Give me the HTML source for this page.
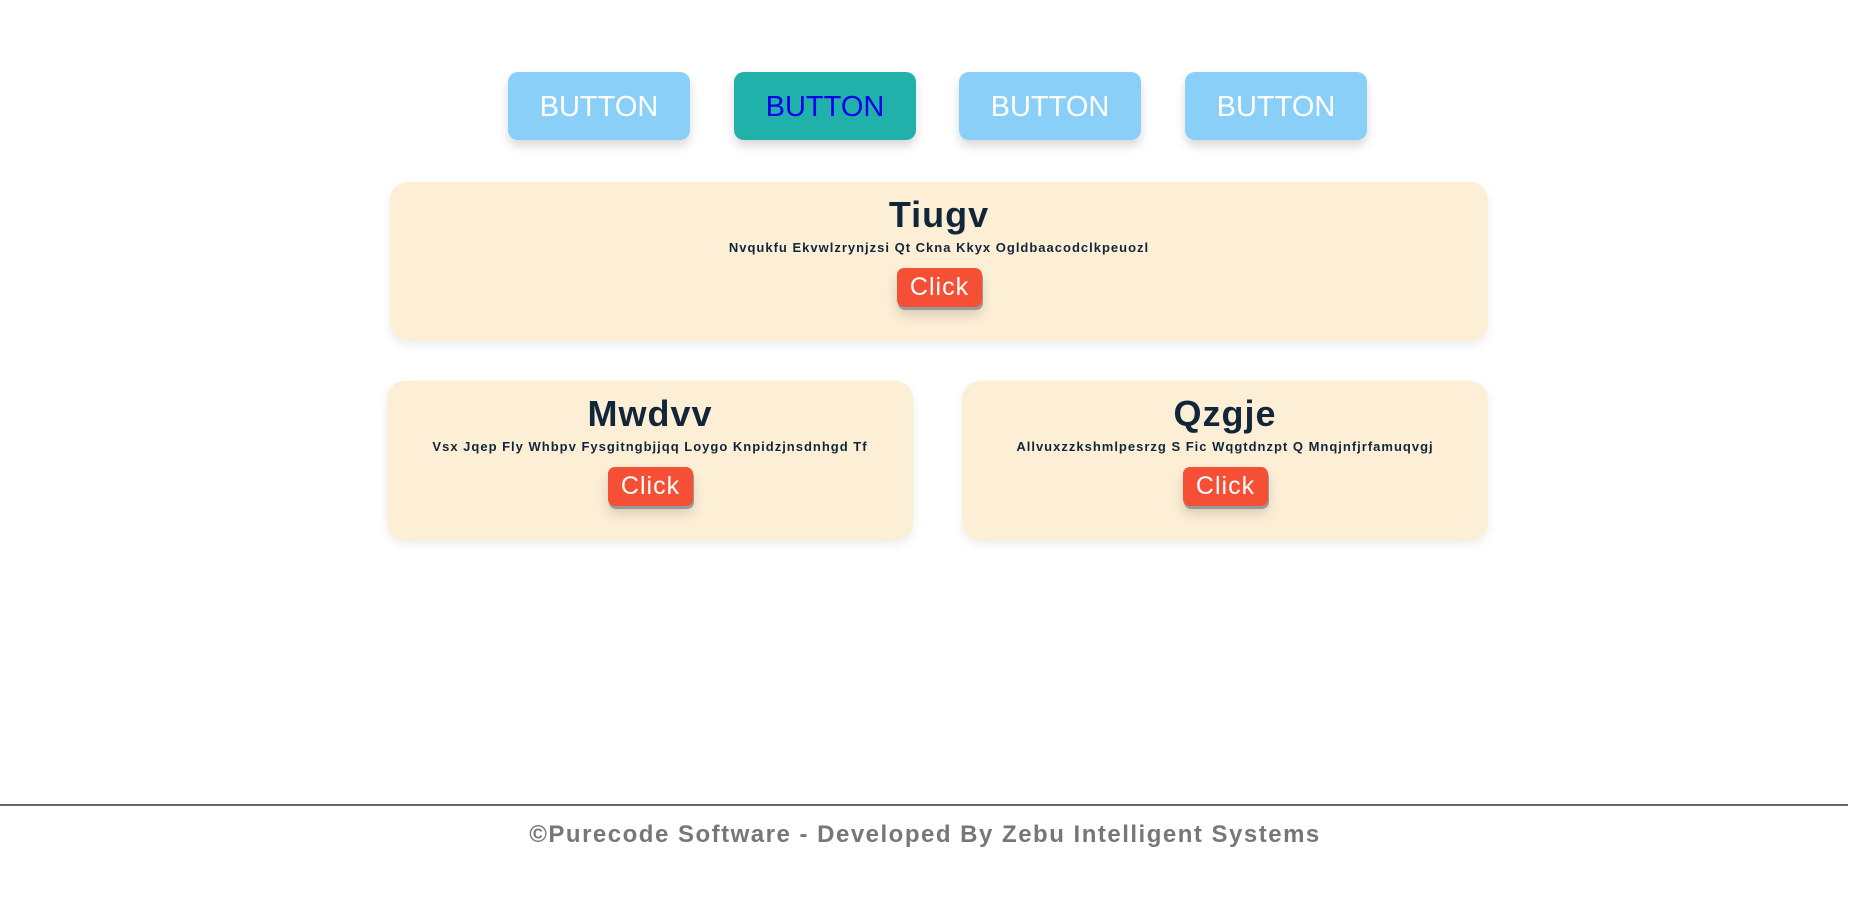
<!DOCTYPE html>
<html><head><style>
body{margin:0;width:1850px;height:900px;background:#fff;font-family:"Liberation Sans",sans-serif;position:relative;overflow:hidden}
.b{position:absolute;top:72px;width:182px;height:68px;border-radius:10px;background:#89cff8;color:#fff;font-size:29px;line-height:70px;text-align:center;box-shadow:0 6px 10px rgba(0,0,0,.15)}
.b.t{background:#20b2aa;color:#0000ee}
.c{position:absolute;background:#fdefd6;border-radius:18px;box-shadow:0 4px 10px rgba(0,0,0,.08);text-align:center;color:#12263a}
.c h2{margin:0;position:absolute;left:0;right:0;top:12px;font-size:36px;font-weight:bold;letter-spacing:1px}
.c p{margin:0;position:absolute;left:0;right:0;top:58px;font-size:13px;font-weight:bold;letter-spacing:1px}
.k{position:absolute;top:86px;left:50%;margin-left:-42px;width:85px;height:39px;background:#f55036;color:#fff;border-radius:7px;font-size:25px;line-height:39px;letter-spacing:1px;box-shadow:1px 3px 0 #999,0 8px 12px rgba(0,0,0,.15)}
</style></head><body>
<div class="b" style="left:508px">BUTTON</div>
<div class="b t" style="left:734px">BUTTON</div>
<div class="b" style="left:959px">BUTTON</div>
<div class="b" style="left:1185px">BUTTON</div>
<div class="c" style="left:390px;top:182px;width:1098px;height:159px"><h2>Tiugv</h2><p>Nvqukfu Ekvwlzrynjzsi Qt Ckna Kkyx Ogldbaacodclkpeuozl</p><div class="k">Click</div></div>
<div class="c" style="left:387px;top:381px;width:526px;height:159px"><h2>Mwdvv</h2><p>Vsx Jqep Fly Whbpv Fysgitngbjjqq Loygo Knpidzjnsdnhgd Tf</p><div class="k">Click</div></div>
<div class="c" style="left:962px;top:381px;width:526px;height:159px"><h2>Qzgje</h2><p>Allvuxzzkshmlpesrzg S Fic Wqgtdnzpt Q Mnqjnfjrfamuqvgj</p><div class="k">Click</div></div>
<div style="position:absolute;left:0;top:804px;width:1848px;height:2px;background:#666"></div>
<div style="position:absolute;left:0;width:1850px;top:821px;text-align:center;font-size:24px;font-weight:bold;color:#777;letter-spacing:1.5px">©Purecode Software - Developed By Zebu Intelligent Systems</div>
</body></html>
